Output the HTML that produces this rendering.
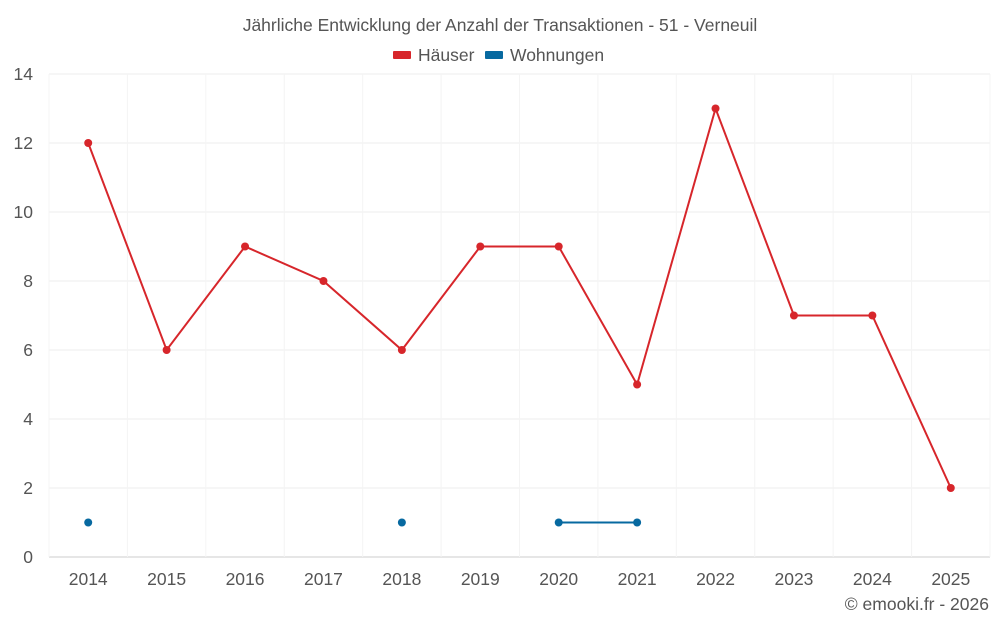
<!DOCTYPE html>
<html><head><meta charset="utf-8"><style>
body{margin:0;background:#fff;font-family:"Liberation Sans",sans-serif;}
svg text{font-family:"Liberation Sans",sans-serif;fill:#555;}
</style></head><body>
<svg id="chart" width="1000" height="625">
<text x="500" y="31" text-anchor="middle" font-size="17.5">Jährliche Entwicklung der Anzahl der Transaktionen - 51 - Verneuil</text>
<g>
<g><rect x="393" y="51" width="18" height="8" rx="1" fill="#d7262b"/><text x="418" y="61" font-size="17.5">Häuser</text></g>
<g><rect x="485" y="51" width="18" height="8" rx="1" fill="#0769a0"/><text x="510" y="61" font-size="17.5">Wohnungen</text></g>
</g>
<g id="grid"></g><g id="axes"></g><g id="series"></g>
<text x="989" y="610" text-anchor="end" font-size="17.5">© emooki.fr - 2026</text>
</svg>
<script>
const years=["2014","2015","2016","2017","2018","2019","2020","2021","2022","2023","2024","2025"];
const haeuser=[12,6,9,8,6,9,9,5,13,7,7,2];
const wohnungen=[1,null,null,null,1,null,1,1,null,null,null,null];
const yTicks=[0,2,4,6,8,10,12,14];
const NS="http://www.w3.org/2000/svg";
const L=49,R=990,T=74,B=557,yMax=14;
const bw=(R-L)/years.length;
const x=i=>L+bw*(i+0.5);
const y=v=>B-(v/yMax)*(B-T);
function mk(tag,a,p){const e=document.createElementNS(NS,tag);for(const k in a)e.setAttribute(k,a[k]);p.appendChild(e);return e;}
const g=document.getElementById('grid'),ax=document.getElementById('axes'),s=document.getElementById('series');
yTicks.forEach(t=>{
 const l=mk('line',{x1:L,x2:R,y1:y(t),y2:y(t),stroke:t===0?'#ccc':'#eee'},g);
 
 
 const tx=mk('text',{x:33,y:y(t)+6,'text-anchor':'end','font-size':17.5},ax);tx.textContent=t;
 
 
});
for(let i=0;i<=years.length;i++){
 const l=mk('line',{x1:L+bw*i,x2:L+bw*i,y1:T,y2:B,stroke:'#f4f4f4'},g);
 
 
}
years.forEach((yr,i)=>{
 const tx=mk('text',{x:x(i),y:585,'text-anchor':'middle','font-size':17.5},ax);tx.textContent=yr;
 
 
});
function draw(vals,color,name){
 let segs=[],cur=[];
 vals.forEach((v,i)=>{if(v==null){if(cur.length)segs.push(cur);cur=[];}else cur.push([x(i),y(v)]);});
 if(cur.length)segs.push(cur);
 segs.forEach(sg=>{if(sg.length>1){const p=mk('polyline',{points:sg.map(q=>q.join(',')).join(' '),fill:'none',stroke:color,'stroke-width':2},s);
  
  }});
 vals.forEach((v,i)=>{if(v==null)return;const c=mk('circle',{cx:x(i),cy:y(v),r:4,fill:color},s);
  
  });
}
draw(haeuser,'#d7262b','haeuser');
draw(wohnungen,'#0769a0','wohnungen');
</script>
</body></html>
